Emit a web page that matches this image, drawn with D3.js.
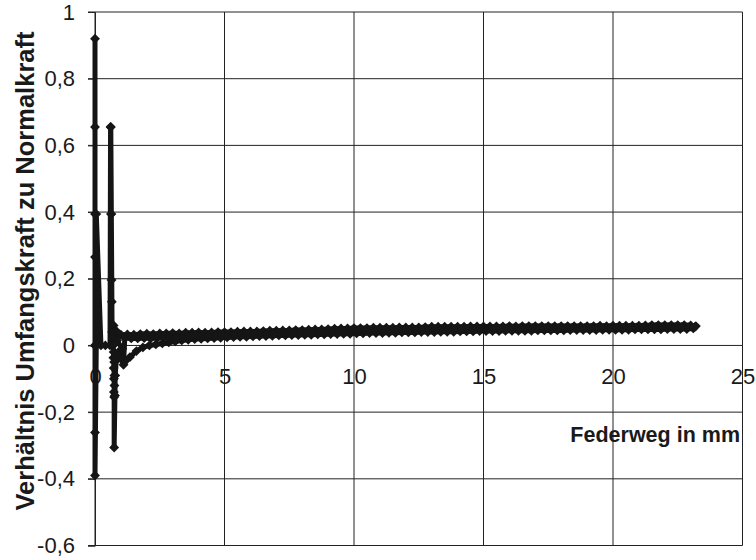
<!DOCTYPE html>
<html>
<head>
<meta charset="utf-8">
<script src="https://cdn.jsdelivr.net/npm/d3@7"></script>
<style>
  html, body { margin: 0; padding: 0; background: #fff; }
  svg { display: block; }
  text { font-family: "Liberation Sans", Arial, Helvetica, sans-serif; fill: #1a1a1a; }
</style>
</head>
<body>
<svg id="chart" width="756" height="560"></svg>
<script>
// Reibwert-Messung: Verhältnis Umfangskraft / Normalkraft über dem Federweg

// Einlaufphase (Anfahren, erste Kontaktstöße)
const anlauf = [
  [0.00, 0.000], [0.00, 0.920], [0.00, 0.655], [0.00, 0.394], [0.00, 0.265],
  [0.00, 0.000], [0.00, -0.261], [0.00, -0.390], [0.05, 0.000], [0.05, 0.394],
  [0.23, 0.000], [0.40, 0.000], [0.58, 0.000], [0.60, 0.655], [0.63, 0.394],
  [0.64, 0.196], [0.65, 0.131], [0.62, 0.394], [0.61, 0.655], [0.66, 0.040],
  [0.70, 0.000], [0.72, -0.020], [0.71, -0.037], [0.74, -0.050], [0.72, -0.068],
  [0.75, -0.090], [0.73, -0.100], [0.75, -0.120], [0.73, -0.140], [0.74, -0.155],
  [0.74, -0.306], [0.77, -0.150], [0.78, -0.090], [0.82, -0.045], [0.90, -0.020],
  [1.00, -0.040], [1.05, -0.010], [0.85, 0.015], [0.72, 0.060], [0.80, 0.045],
  [0.92, 0.034]
];

// 1. Durchlauf, Belastung (Einfedern)
const belastung = [
  [1.00, 0.032], [1.25, 0.033], [1.50, 0.032], [1.75, 0.034], [2.00, 0.035],
  [2.25, 0.034], [2.50, 0.036], [2.75, 0.036], [3.00, 0.037], [3.25, 0.036],
  [3.50, 0.038], [3.75, 0.038], [4.00, 0.039], [4.25, 0.038], [4.50, 0.039],
  [4.75, 0.040], [5.00, 0.040], [5.25, 0.040], [5.50, 0.041], [5.75, 0.042],
  [6.00, 0.042], [6.25, 0.042], [6.50, 0.043], [6.75, 0.044], [7.00, 0.044],
  [7.25, 0.045], [7.50, 0.045], [7.75, 0.046], [8.00, 0.046], [8.25, 0.047],
  [8.50, 0.048], [8.75, 0.048], [9.00, 0.049], [9.25, 0.050], [9.50, 0.051],
  [9.75, 0.051], [10.00, 0.052], [10.25, 0.052], [10.50, 0.052], [10.75, 0.053],
  [11.00, 0.053], [11.25, 0.053], [11.50, 0.053], [11.75, 0.054], [12.00, 0.054],
  [12.25, 0.054], [12.50, 0.054], [12.75, 0.055], [13.00, 0.056], [13.25, 0.056],
  [13.50, 0.056], [13.75, 0.056], [14.00, 0.056], [14.25, 0.056], [14.50, 0.057],
  [14.75, 0.057], [15.00, 0.057], [15.25, 0.057], [15.50, 0.057], [15.75, 0.057],
  [16.00, 0.058], [16.25, 0.057], [16.50, 0.058], [16.75, 0.058], [17.00, 0.058],
  [17.25, 0.058], [17.50, 0.058], [17.75, 0.058], [18.00, 0.058], [18.25, 0.058],
  [18.50, 0.058], [18.75, 0.058], [19.00, 0.058], [19.25, 0.058], [19.50, 0.059],
  [19.75, 0.058], [20.00, 0.059], [20.25, 0.059], [20.50, 0.059], [20.75, 0.059],
  [21.00, 0.059], [21.25, 0.060], [21.50, 0.061], [21.75, 0.061], [22.00, 0.061],
  [22.25, 0.061], [22.50, 0.061], [22.75, 0.061], [23.00, 0.060], [23.20, 0.058]
];

// 1. Durchlauf, Entlastung (Ausfedern)
const entlastung = [
  [23.10, 0.051], [22.85, 0.049], [22.60, 0.049], [22.35, 0.049], [22.10, 0.049],
  [21.85, 0.048], [21.60, 0.048], [21.35, 0.048], [21.10, 0.048], [20.85, 0.048],
  [20.60, 0.047], [20.35, 0.047], [20.10, 0.047], [19.85, 0.047], [19.60, 0.047],
  [19.35, 0.046], [19.10, 0.046], [18.85, 0.046], [18.60, 0.046], [18.35, 0.046],
  [18.10, 0.045], [17.85, 0.045], [17.60, 0.045], [17.35, 0.045], [17.10, 0.045],
  [16.85, 0.044], [16.60, 0.044], [16.35, 0.044], [16.10, 0.044], [15.85, 0.044],
  [15.60, 0.043], [15.35, 0.043], [15.10, 0.043], [14.85, 0.043], [14.60, 0.042],
  [14.35, 0.042], [14.10, 0.042], [13.85, 0.041], [13.60, 0.041], [13.35, 0.041],
  [13.10, 0.040], [12.85, 0.040], [12.60, 0.040], [12.35, 0.039], [12.10, 0.039],
  [11.85, 0.039], [11.60, 0.038], [11.35, 0.038], [11.10, 0.037], [10.85, 0.037],
  [10.60, 0.037], [10.35, 0.036], [10.10, 0.036], [9.85, 0.035], [9.60, 0.035],
  [9.35, 0.034], [9.10, 0.034], [8.85, 0.033], [8.60, 0.033], [8.35, 0.032],
  [8.10, 0.032], [7.85, 0.031], [7.60, 0.031], [7.35, 0.030], [7.10, 0.030],
  [6.85, 0.029], [6.60, 0.028], [6.35, 0.028], [6.10, 0.027], [5.85, 0.026],
  [5.60, 0.026], [5.35, 0.025], [5.10, 0.024], [4.85, 0.023], [4.60, 0.022],
  [4.35, 0.021], [4.10, 0.020], [3.85, 0.019], [3.60, 0.017], [3.35, 0.015],
  [3.10, 0.012], [2.85, 0.009], [2.60, 0.006], [2.35, 0.003], [2.10, 0.000],
  [1.85, -0.006], [1.60, -0.017], [1.35, -0.035], [1.10, -0.058]
];

// 2. Durchlauf (Einfedern)
const durchlauf2 = [
  [1.15, 0.022], [1.40, 0.021], [1.65, 0.021], [1.90, 0.022], [2.15, 0.021],
  [2.40, 0.022], [2.65, 0.023], [2.90, 0.025], [3.15, 0.026], [3.40, 0.027],
  [3.65, 0.028], [3.90, 0.029], [4.15, 0.030], [4.40, 0.030], [4.65, 0.031],
  [4.90, 0.032], [5.15, 0.032], [5.40, 0.033], [5.65, 0.034], [5.90, 0.034],
  [6.15, 0.035], [6.40, 0.035], [6.65, 0.036], [6.90, 0.037], [7.15, 0.037],
  [7.40, 0.038], [7.65, 0.038], [7.90, 0.039], [8.15, 0.039], [8.40, 0.040],
  [8.65, 0.041], [8.90, 0.041], [9.15, 0.042], [9.40, 0.042], [9.65, 0.043],
  [9.90, 0.044], [10.15, 0.044], [10.40, 0.044], [10.65, 0.045], [10.90, 0.045],
  [11.15, 0.045], [11.40, 0.046], [11.65, 0.046], [11.90, 0.046], [12.15, 0.047],
  [12.40, 0.047], [12.65, 0.047], [12.90, 0.048], [13.15, 0.048], [13.40, 0.048],
  [13.65, 0.049], [13.90, 0.049], [14.15, 0.049], [14.40, 0.050], [14.65, 0.050],
  [14.90, 0.050], [15.15, 0.050], [15.40, 0.050], [15.65, 0.051], [15.90, 0.051],
  [16.15, 0.051], [16.40, 0.051], [16.65, 0.051], [16.90, 0.052], [17.15, 0.052],
  [17.40, 0.052], [17.65, 0.052], [17.90, 0.052], [18.15, 0.052], [18.40, 0.052],
  [18.65, 0.052], [18.90, 0.052], [19.15, 0.053], [19.40, 0.053], [19.65, 0.053],
  [19.90, 0.053], [20.15, 0.053], [20.40, 0.053], [20.65, 0.053], [20.90, 0.054],
  [21.15, 0.054], [21.40, 0.054], [21.65, 0.055], [21.90, 0.055], [22.15, 0.055],
  [22.40, 0.055], [22.65, 0.055], [22.90, 0.055], [23.15, 0.055]
];

const xTicks = [0, 5, 10, 15, 20, 25];
const xTickLabels = ["0", "5", "10", "15", "20", "25"];
const yTicks = [-0.6, -0.4, -0.2, 0, 0.2, 0.4, 0.6, 0.8, 1];
const yTickLabels = ["-0,6", "-0,4", "-0,2", "0", "0,2", "0,4", "0,6", "0,8", "1"];

const xTitle = "Federweg in mm";
const yTitle = "Verhältnis Umfangskraft zu Normalkraft";

// ---- Aufbau ----
const svg = d3.select("#chart");
const plot = { left: 95, right: 742.5, top: 12, bottom: 545.5 };
const tickFont = "'Liberation Sans Narrow', 'Arial Narrow', 'Liberation Sans', Arial, sans-serif";

const x = d3.scaleLinear().domain([0, 25]).range([plot.left, plot.right]);
const y = d3.scaleLinear().domain([-0.6, 1]).range([plot.bottom, plot.top]);

// Gitternetz
const grid = svg.append("g").attr("stroke", "#222").attr("stroke-width", 1);
grid.selectAll("line.h").data(yTicks).join("line")
  .attr("class", "h")
  .attr("x1", plot.left - 7).attr("x2", plot.right)
  .attr("y1", d => y(d)).attr("y2", d => y(d));
grid.selectAll("line.v").data(xTicks).join("line")
  .attr("class", "v")
  .attr("x1", d => x(d)).attr("x2", d => x(d))
  .attr("y1", plot.top).attr("y2", plot.bottom);

// Y-Achse mit Beschriftung
const yAxis = d3.axisLeft(y)
  .tickValues(yTicks)
  .tickSize(7)
  .tickPadding(13)
  .tickFormat((d, i) => yTickLabels[i]);
const yg = svg.append("g").attr("transform", `translate(${plot.left},0)`).call(yAxis);
yg.select(".domain").attr("stroke", "#222");
yg.selectAll(".tick line").attr("stroke", "#222");
yg.selectAll(".tick text")
  .attr("font-size", 22)
  .attr("font-family", tickFont)
  .attr("fill", "#1a1a1a");

// X-Achse auf der Nulllinie
const xAxis = d3.axisBottom(x)
  .tickValues(xTicks)
  .tickSize(0)
  .tickPadding(23)
  .tickFormat((d, i) => xTickLabels[i]);
const xg = svg.append("g").attr("transform", `translate(0,${y(0)})`).call(xAxis);
xg.select(".domain").remove();
xg.selectAll(".tick text")
  .attr("font-size", 22)
  .attr("font-family", tickFont)
  .attr("fill", "#1a1a1a");

// Messreihe
const messreihe = anlauf.concat(belastung, entlastung, durchlauf2);
const line = d3.line().x(d => x(d[0])).y(d => y(d[1]));

svg.append("path")
  .datum(messreihe)
  .attr("d", line)
  .attr("fill", "none")
  .attr("stroke", "#151515")
  .attr("stroke-width", 5)
  .attr("stroke-linejoin", "round")
  .attr("stroke-linecap", "round");

const marker = d3.symbol().type(d3.symbolDiamond2).size(62);
svg.append("g").selectAll("path").data(messreihe).join("path")
  .attr("transform", d => `translate(${x(d[0])},${y(d[1])})`)
  .attr("d", marker)
  .attr("fill", "#151515");

// Achsentitel
svg.append("text")
  .attr("x", 740).attr("y", 442)
  .attr("text-anchor", "end")
  .attr("font-size", 21.5)
  .attr("font-weight", "bold")
  .text(xTitle);

svg.append("text")
  .attr("transform", "translate(34,271) rotate(-90)")
  .attr("text-anchor", "middle")
  .attr("font-size", 25.5)
  .attr("font-weight", "bold")
  .text(yTitle);
</script>
</body>
</html>
